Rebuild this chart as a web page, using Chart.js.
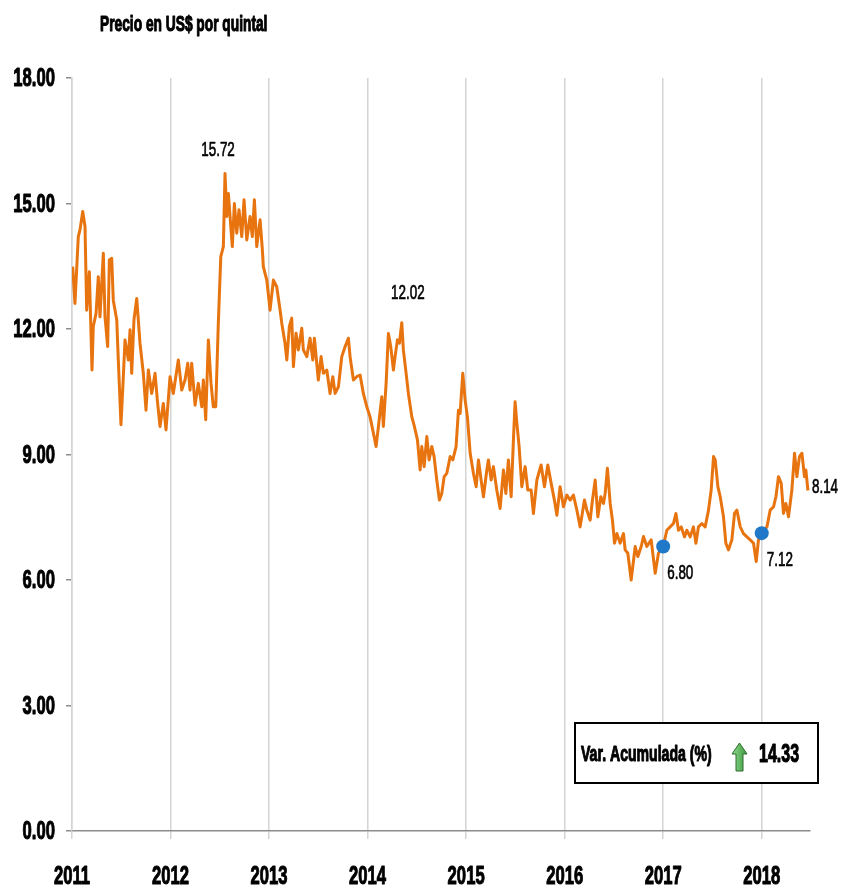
<!DOCTYPE html>
<html>
<head>
<meta charset="utf-8">
<script src="https://cdn.jsdelivr.net/npm/chart.js@4.4.1/dist/chart.umd.min.js"></script>
<style>
body{margin:0;background:#fff;}
</style>
</head>
<body>
<canvas id="grafico" width="843" height="891"></canvas>
<script>
// precio diario (US$ por quintal), fecha en años decimales
const fechas = [
2011.007,2011.030,2011.064,2011.081,2011.109,2011.132,2011.149,2011.176,2011.203,2011.216,
2011.244,2011.267,2011.284,2011.318,2011.335,2011.362,2011.379,2011.403,2011.419,2011.454,
2011.470,2011.497,2011.521,2011.538,2011.572,2011.589,2011.606,2011.629,2011.657,2011.690,
2011.724,2011.751,2011.775,2011.809,2011.843,2011.866,2011.893,2011.927,2011.954,2011.995,
2012.028,2012.079,2012.114,2012.147,2012.175,2012.198,2012.215,2012.249,2012.282,2012.317,
2012.333,2012.357,2012.384,2012.411,2012.434,2012.459,2012.485,2012.510,2012.536,2012.553,
2012.571,2012.587,2012.614,2012.627,2012.648,2012.672,2012.695,2012.723,2012.746,2012.774,
2012.807,2012.830,2012.851,2012.875,2012.909,2012.932,2012.942,2012.959,2012.977,2013.010,
2013.044,2013.078,2013.112,2013.129,2013.162,2013.180,2013.206,2013.230,2013.247,2013.274,
2013.297,2013.332,2013.348,2013.383,2013.416,2013.444,2013.460,2013.500,2013.528,2013.551,
2013.586,2013.619,2013.647,2013.670,2013.704,2013.738,2013.772,2013.805,2013.822,2013.856,
2013.890,2013.924,2013.957,2013.992,2014.025,2014.059,2014.086,2014.110,2014.144,2014.160,
2014.188,2014.211,2014.235,2014.262,2014.279,2014.303,2014.323,2014.347,2014.363,2014.391,
2014.414,2014.449,2014.475,2014.506,2014.533,2014.550,2014.574,2014.601,2014.624,2014.652,
2014.675,2014.702,2014.729,2014.753,2014.777,2014.804,2014.838,2014.865,2014.898,2014.922,
2014.939,2014.966,2014.990,2015.013,2015.041,2015.074,2015.102,2015.125,2015.152,2015.176,
2015.210,2015.226,2015.254,2015.277,2015.311,2015.345,2015.379,2015.403,2015.429,2015.457,
2015.480,2015.497,2015.515,2015.538,2015.565,2015.599,2015.626,2015.660,2015.683,2015.718,
2015.761,2015.795,2015.829,2015.863,2015.896,2015.921,2015.954,2015.988,2016.022,2016.056,
2016.089,2016.124,2016.157,2016.201,2016.225,2016.259,2016.282,2016.310,2016.337,2016.367,
2016.394,2016.411,2016.434,2016.462,2016.485,2016.506,2016.530,2016.563,2016.597,2016.614,
2016.641,2016.675,2016.716,2016.743,2016.777,2016.800,2016.834,2016.878,2016.919,2016.952,
2017.000,2017.037,2017.071,2017.104,2017.129,2017.155,2017.183,2017.216,2017.240,2017.274,
2017.307,2017.332,2017.358,2017.393,2017.426,2017.460,2017.487,2017.511,2017.528,2017.555,
2017.579,2017.612,2017.636,2017.663,2017.697,2017.724,2017.748,2017.782,2017.815,2017.850,
2017.883,2017.917,2017.944,2017.967,2018.000,2018.053,2018.086,2018.120,2018.144,2018.170,
2018.198,2018.221,2018.245,2018.272,2018.306,2018.333,2018.357,2018.383,2018.408,2018.434,
2018.448,2018.469
];
const precios = [
13.49,12.61,14.21,14.37,14.81,14.45,12.45,13.37,11.02,12.06,
12.37,13.25,12.29,13.81,12.29,11.58,13.65,13.69,12.69,12.22,
11.26,9.71,10.86,11.74,11.26,11.98,10.94,12.22,12.73,11.66,
10.94,10.06,11.02,10.46,10.94,10.30,9.67,10.22,9.59,10.86,
10.46,11.26,10.54,10.78,11.18,10.54,11.18,10.18,10.70,10.14,
10.78,9.83,11.74,10.70,10.14,10.14,12.14,13.73,13.97,15.72,
14.69,15.24,14.37,13.97,15.00,14.29,14.85,14.21,15.09,14.13,
14.69,14.21,15.09,13.97,14.61,13.89,13.49,13.33,13.17,12.45,
13.17,13.01,12.45,12.14,11.66,11.26,12.06,12.26,11.10,11.90,
11.50,12.02,11.50,11.34,11.78,11.26,11.78,10.78,11.34,10.94,
11.02,10.46,10.86,10.46,10.62,11.34,11.58,11.78,11.34,10.78,
10.86,10.90,10.46,10.14,9.90,9.51,9.19,9.67,10.38,9.67,
10.70,11.89,11.58,11.02,11.34,11.74,11.66,12.15,11.50,10.94,
10.46,9.90,9.67,9.35,8.63,9.19,8.71,9.43,8.87,9.19,
8.95,8.39,7.91,8.07,8.47,8.55,8.95,8.87,9.19,10.06,
9.98,10.94,10.30,9.90,9.03,8.55,8.23,8.87,8.39,7.99,
8.63,8.87,8.39,8.71,8.15,7.71,8.63,8.07,8.87,7.99,
9.35,10.26,9.75,9.19,8.23,8.71,8.15,8.15,7.59,8.39,
8.75,8.23,8.75,8.31,7.91,7.55,8.23,7.75,8.03,7.91,
8.03,7.67,7.27,7.91,7.67,7.43,7.91,8.39,7.51,7.99,
7.83,8.07,8.67,7.83,7.43,6.88,7.11,6.88,7.11,6.72,
6.64,6.00,6.80,6.56,6.80,7.04,6.80,6.96,6.16,6.64,
6.80,7.19,7.27,7.35,7.59,7.19,7.27,7.03,7.19,7.03,
7.27,6.88,7.27,7.35,7.27,7.67,8.15,8.95,8.87,8.23,
7.99,7.51,6.88,6.72,6.96,7.59,7.67,7.27,7.11,7.03,
6.96,6.88,6.44,6.96,7.12,7.27,7.67,7.75,7.99,8.47,
8.31,7.59,7.83,7.51,8.15,9.03,8.47,8.95,9.03,8.47,
8.63,8.14
];

// puntos marcados (inicio de año)
const marcasFecha = [2017, 2018];
const marcasPrecio = [6.80, 7.12];

// etiquetas de valores
const notasFecha = [2012.553, 2014.347, 2017, 2018, 2018.469];
const notasPrecio = [15.72, 12.15, 6.80, 7.12, 8.14];
const notasTexto = ["15.72", "12.02", "6.80", "7.12", "8.14"];

const anios = [2011, 2012, 2013, 2014, 2015, 2016, 2017, 2018];
const ticksY = [0, 3, 6, 9, 12, 15, 18];

const titulo = "Precio en US$ por quintal";
const varTexto = "Var. Acumulada (%)";
const varValor = "14.33";

const FUENTE = "'Liberation Sans', Arial, sans-serif";
const ANCHO = 0.64; // letra estrecha

const serie = fechas.map((f, i) => ({x: f, y: precios[i]}));
const marcas = marcasFecha.map((f, i) => ({x: f, y: marcasPrecio[i]}));

function texto(ctx, t, x, y, size, weight, align){
  ctx.save();
  ctx.font = weight + " " + size + "px " + FUENTE;
  const w = ctx.measureText(t).width * ANCHO;
  let x0 = x;
  if(align === "center") x0 = x - w / 2;
  if(align === "right") x0 = x - w;
  ctx.translate(x0, y);
  ctx.scale(ANCHO, 1);
  ctx.textAlign = "left";
  ctx.textBaseline = "middle";
  ctx.fillStyle = "#000";
  ctx.strokeStyle = "#000";
  ctx.lineWidth = weight === "bold" ? 1.1 : 0.7;
  ctx.lineJoin = "round";
  ctx.fillText(t, 0, 0);
  ctx.strokeText(t, 0, 0);
  ctx.restore();
}

const textos = {
  id: "textos",
  afterDraw(chart){
    const ctx = chart.ctx;
    const sx = chart.scales.x, sy = chart.scales.y;
    ctx.save();

    texto(ctx, titulo, 100, 25, 21.5, "bold", "left");

    // etiquetas de ejes
    ticksY.forEach(v => {
      texto(ctx, v.toFixed(2), 55, sy.getPixelForValue(v) + 1, 26, "bold", "right");
    });
    anios.forEach(a => {
      texto(ctx, String(a), sx.getPixelForValue(a), 877, 26, "bold", "center");
    });

    // notas junto a la linea
    const desp = [[-7, -23, "center"], [6, -30, "center"], [4, 27, "left"], [5, 27, "left"], [4, -3, "left"]];
    notasTexto.forEach((t, i) => {
      const px = sx.getPixelForValue(notasFecha[i]);
      const py = sy.getPixelForValue(notasPrecio[i]);
      texto(ctx, t, px + desp[i][0], py + desp[i][1], 21, "normal", desp[i][2]);
    });

    // recuadro de variacion
    ctx.lineWidth = 2;
    ctx.strokeStyle = "#000";
    ctx.fillStyle = "#fff";
    ctx.fillRect(575, 723, 243, 60);
    ctx.strokeRect(575, 723, 243, 60);
    texto(ctx, varTexto, 581, 755, 22, "bold", "left");
    texto(ctx, varValor, 759, 755, 25, "bold", "left");

    // flecha verde
    const ax = 739.5, ay = 743;
    const g = ctx.createLinearGradient(ax - 7, 0, ax + 7, 0);
    g.addColorStop(0, "#8ed88e");
    g.addColorStop(1, "#3c9a3c");
    ctx.beginPath();
    ctx.moveTo(ax, ay);
    ctx.lineTo(ax + 7.5, ay + 11);
    ctx.lineTo(ax + 3.5, ay + 11);
    ctx.lineTo(ax + 3.5, ay + 28);
    ctx.lineTo(ax - 3.5, ay + 28);
    ctx.lineTo(ax - 3.5, ay + 11);
    ctx.lineTo(ax - 7.5, ay + 11);
    ctx.closePath();
    ctx.fillStyle = g;
    ctx.fill();
    ctx.lineWidth = 1;
    ctx.strokeStyle = "#2e6b2e";
    ctx.stroke();

    ctx.restore();
  }
};

new Chart(document.getElementById("grafico"), {
  type: "line",
  data: {
    datasets: [
      {
        data: marcas,
        showLine: false,
        pointRadius: 7,
        pointBackgroundColor: "#1f78c8",
        pointBorderColor: "#1f78c8",
        pointBorderWidth: 0,
        order: 0
      },
      {
        data: serie,
        borderColor: "#e8740f",
        borderWidth: 3,
        pointRadius: 0,
        tension: 0,
        borderJoinStyle: "round",
        order: 1
      }
    ]
  },
  options: {
    responsive: false,
    animation: false,
    layout: {padding: {top: 78, right: 33, left: 0, bottom: 0}},
    plugins: {legend: {display: false}, tooltip: {enabled: false}},
    scales: {
      x: {
        type: "linear",
        min: 2011,
        max: 2018.49,
        afterFit(s){ s.height = 60; },
        afterBuildTicks(s){ s.ticks = anios.map(v => ({value: v})); },
        ticks: {display: false},
        grid: {color: "#d4d4d4", lineWidth: 1.5, tickLength: 8, tickColor: "#d4d4d4"},
        border: {color: "#8c8c8c", width: 1.5}
      },
      y: {
        min: 0,
        max: 18,
        afterFit(s){ s.width = 72; },
        afterBuildTicks(s){ s.ticks = ticksY.map(v => ({value: v})); },
        ticks: {display: false},
        grid: {drawOnChartArea: false, tickLength: 6, tickColor: "#8c8c8c", lineWidth: 1.5},
        border: {color: "#d4d4d4", width: 1.5}
      }
    }
  },
  plugins: [textos]
});
</script>
</body>
</html>
